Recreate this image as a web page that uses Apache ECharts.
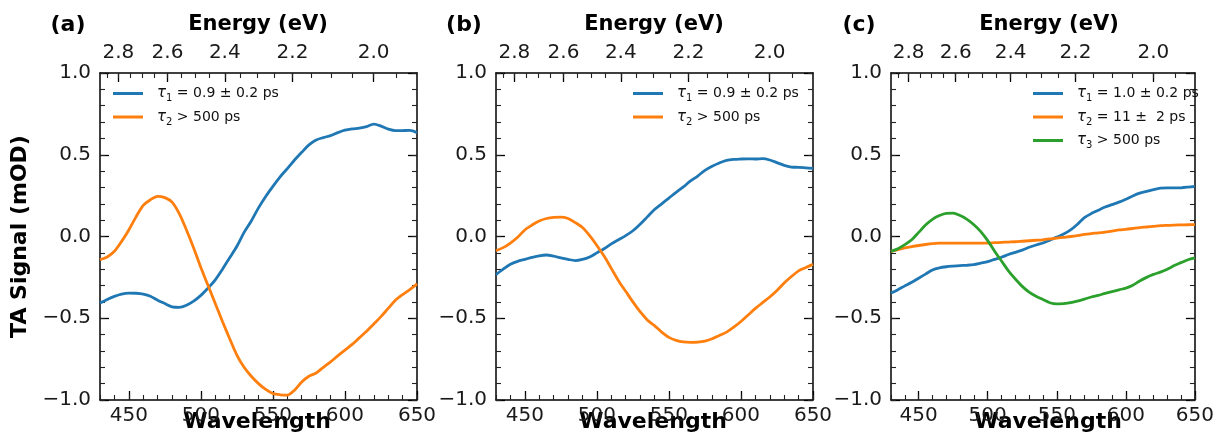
<!DOCTYPE html>
<html>
<head>
<meta charset="utf-8">
<script src="https://cdn.jsdelivr.net/npm/echarts@6/dist/echarts.min.js"></script>
<style>
    body { margin: 0; background: #fff; }
    #main { width: 1217px; height: 434px; }
</style>
</head>
<body>
<div id="main"></div>
<script>
// wavelength grid (nm) the curves were read on
var wavelength = [430, 435, 440, 445, 450, 455, 460, 465, 470, 475, 480, 485, 490, 495, 500,
    505, 510, 515, 520, 525, 530, 535, 540, 545, 550, 555, 560, 565, 570, 575, 580,
    585, 590, 595, 600, 605, 610, 615, 620, 625, 630, 635, 640, 645, 650];

// panel (a)
var a_tau1 = [-0.407, -0.385, -0.366, -0.352, -0.346, -0.347, -0.352, -0.365, -0.39, -0.41, -0.43, -0.433, -0.42, -0.395, -0.36,
    -0.315, -0.265, -0.2, -0.13, -0.06, 0.025, 0.095, 0.175, 0.245, 0.307, 0.365, 0.415, 0.468, 0.515, 0.56, 0.59,
    0.605, 0.617, 0.635, 0.65, 0.658, 0.663, 0.672, 0.687, 0.675, 0.657, 0.647, 0.648, 0.649, 0.635];
var a_tau2 = [-0.142, -0.125, -0.09, -0.03, 0.04, 0.12, 0.19, 0.225, 0.246, 0.238, 0.21, 0.14, 0.04, -0.07, -0.19,
    -0.3, -0.41, -0.52, -0.625, -0.725, -0.8, -0.855, -0.9, -0.935, -0.96, -0.968, -0.97, -0.94, -0.89, -0.855, -0.835,
    -0.8, -0.767, -0.73, -0.695, -0.66, -0.62, -0.58, -0.535, -0.49, -0.44, -0.39, -0.355, -0.325, -0.29];

// panel (b)
var b_tau1 = [-0.233, -0.2, -0.17, -0.152, -0.14, -0.128, -0.118, -0.113, -0.12, -0.131, -0.14, -0.147, -0.14, -0.125, -0.1,
    -0.075, -0.045, -0.02, 0.005, 0.035, 0.075, 0.12, 0.165, 0.2, 0.235, 0.27, 0.303, 0.34, 0.37, 0.405, 0.43,
    0.45, 0.466, 0.472, 0.474, 0.475, 0.474, 0.476, 0.468, 0.452, 0.435, 0.425, 0.423, 0.42, 0.417];
var b_tau2 = [-0.087, -0.068, -0.04, -0.005, 0.04, 0.07, 0.095, 0.11, 0.117, 0.118, 0.11, 0.085, 0.055, 0.005, -0.055,
    -0.12, -0.195, -0.27, -0.335, -0.4, -0.46, -0.51, -0.545, -0.585, -0.617, -0.635, -0.645, -0.647, -0.646, -0.64, -0.625,
    -0.605, -0.585, -0.555, -0.52, -0.48, -0.44, -0.405, -0.37, -0.33, -0.285, -0.245, -0.21, -0.19, -0.17];

// panel (c)
var c_tau1 = [-0.346, -0.325, -0.302, -0.28, -0.255, -0.23, -0.205, -0.192, -0.185, -0.181, -0.178, -0.176, -0.172, -0.163, -0.154,
    -0.14, -0.127, -0.11, -0.097, -0.083, -0.066, -0.052, -0.04, -0.022, -0.004, 0.015, 0.04, 0.075, 0.115, 0.14, 0.16,
    0.18, 0.195, 0.21, 0.228, 0.248, 0.265, 0.276, 0.287, 0.296, 0.298, 0.297, 0.298, 0.302, 0.307];
var c_tau2 = [-0.091, -0.08, -0.07, -0.062, -0.055, -0.049, -0.044, -0.041, -0.04, -0.04, -0.04, -0.04, -0.04, -0.04, -0.04,
    -0.038, -0.036, -0.034, -0.032, -0.029, -0.026, -0.023, -0.02, -0.015, -0.01, -0.005, 0.0, 0.006, 0.013, 0.018, 0.022,
    0.027, 0.033, 0.04, 0.044, 0.049, 0.054, 0.058, 0.062, 0.066, 0.068, 0.07, 0.071, 0.072, 0.073];
var c_tau3 = [-0.091, -0.075, -0.05, -0.02, 0.025, 0.07, 0.105, 0.128, 0.142, 0.143, 0.128, 0.105, 0.072, 0.03, -0.025,
    -0.09, -0.15, -0.21, -0.26, -0.305, -0.34, -0.365, -0.385, -0.405, -0.412, -0.41, -0.405, -0.395, -0.383, -0.37, -0.36,
    -0.348, -0.337, -0.326, -0.316, -0.298, -0.272, -0.25, -0.232, -0.218, -0.2, -0.178, -0.16, -0.142, -0.131];

var names_ab = ['τ₁ = 0.9 ± 0.2 ps', 'τ₂ > 500 ps'];
var names_c = ['τ₁ = 1.0 ± 0.2 ps', 'τ₂ = 11 ±  2 ps', 'τ₃ > 500 ps'];
var panelTags = ['(a)', '(b)', '(c)'];

// tick labels
var wlTicks = [450, 500, 550, 600, 650];
var energyTicks = [2.8, 2.6, 2.4, 2.2, 2.0];
var energyMinor = [2.85, 2.8, 2.75, 2.7, 2.65, 2.6, 2.55, 2.5, 2.45, 2.4, 2.35, 2.3, 2.25, 2.2, 2.15, 2.1, 2.05, 2.0, 1.95];

var HC = 1239.84; // eV*nm
var colors = ['#1f77b4', '#ff7f0e', '#2ca02c'];
var panelLeft = [100, 496, 891];
var tagX = [68, 464, 859];
var PW = 317, PH = 327, PTOP = 73;
var FONT = 'DejaVu Sans';
var INK = '#1a1a1a';
var SUBS = { '₁': '1', '₂': '2', '₃': '3' };

var toNm = function (list) {
    return list.map(function (e) { return HC / e; });
};

var pairs = function (ys) {
    return wavelength.map(function (w, i) { return [w, ys[i]]; });
};

var line = { show: true, onZero: false, lineStyle: { color: '#000', width: 1.5 } };
var noLine = { show: false, onZero: false };
var majorTick = function (extra) {
    var t = { inside: true, length: 9, lineStyle: { color: '#000', width: 1.3 } };
    if (extra) t.customValues = extra;
    return t;
};
var minorTick = function (extra) {
    var t = { inside: true, length: 5, lineStyle: { color: '#222', width: 1.1 } };
    if (extra) t.customValues = extra;
    return t;
};
var yFormat = function (v) { return (v < 0 ? '\u2212' : '') + Math.abs(v).toFixed(1); };

// "τ₁ = ..." -> italic tau + lowered subscript
var legendFormat = function (name) {
    return '{t|τ}{s|' + SUBS[name.charAt(1)] + '}{n|' + name.slice(2) + '}';
};

var grids = [], xAxes = [], yAxes = [], series = [], legends = [], texts = [];

panelLeft.forEach(function (left, i) {
    grids.push({ left: left, top: PTOP, width: PW, height: PH });

    // bottom: labels + major ticks
    xAxes.push({
        gridIndex: i, type: 'value', position: 'bottom', min: 430, max: 650, interval: 50,
        axisLine: line, axisTick: majorTick(wlTicks),
        axisLabel: { customValues: wlTicks, fontSize: 20, fontFamily: FONT, color: INK, margin: 6 },
        splitLine: { show: false }
    });
    // bottom: minor ticks
    xAxes.push({
        gridIndex: i, type: 'value', position: 'bottom', min: 430, max: 650, interval: 10,
        axisLine: noLine, axisTick: minorTick(), axisLabel: { show: false }, splitLine: { show: false }
    });
    // top: energy labels + major ticks
    xAxes.push({
        gridIndex: i, type: 'value', position: 'top', min: 430, max: 650,
        axisLine: line, axisTick: majorTick(toNm(energyTicks)),
        axisLabel: {
            customValues: toNm(energyTicks), fontSize: 20, fontFamily: FONT, color: INK, margin: 10,
            formatter: function (v) { return (HC / v).toFixed(1); }
        },
        splitLine: { show: false }
    });
    // top: minor ticks
    xAxes.push({
        gridIndex: i, type: 'value', position: 'top', min: 430, max: 650,
        axisLine: noLine, axisTick: minorTick(toNm(energyMinor)), axisLabel: { show: false }, splitLine: { show: false }
    });

    ['left', 'right'].forEach(function (side) {
        yAxes.push({
            gridIndex: i, type: 'value', position: side, min: -1, max: 1, interval: 0.5,
            axisLine: line, axisTick: majorTick(),
            axisLabel: side === 'left'
                ? { fontSize: 20, fontFamily: FONT, color: INK, margin: 9, formatter: yFormat }
                : { show: false },
            splitLine: { show: false }
        });
        yAxes.push({
            gridIndex: i, type: 'value', position: side, min: -1, max: 1, interval: 0.1,
            axisLine: noLine, axisTick: minorTick(), axisLabel: { show: false }, splitLine: { show: false }
        });
    });

    texts.push({
        type: 'text',
        style: { x: tagX[i], y: 25, text: panelTags[i], font: 'bold 22px "DejaVu Sans"', fill: '#000', textAlign: 'center', textVerticalAlign: 'middle' }
    });
    texts.push({
        type: 'text',
        style: { x: left + PW / 2 - 0.5, y: 25, text: 'Energy (eV)', font: 'bold 21px "DejaVu Sans"', fill: '#000', textAlign: 'center', textVerticalAlign: 'middle' }
    });
    texts.push({
        type: 'text',
        style: { x: left + PW / 2 - 1.5, y: 422, text: 'Wavelength', font: 'bold 22px "DejaVu Sans"', fill: '#000', textAlign: 'center', textVerticalAlign: 'middle' }
    });
});

var addSeries = function (panel, name, ys, k) {
    series.push({
        type: 'line', name: name, xAxisIndex: panel * 4, yAxisIndex: panel * 4,
        data: pairs(ys), symbol: 'none', smooth: 0.3,
        lineStyle: { color: colors[k], width: 2.8 },
        itemStyle: { color: colors[k] }
    });
};

addSeries(0, names_ab[0], a_tau1, 0);
addSeries(0, names_ab[1], a_tau2, 1);
addSeries(1, names_ab[0], b_tau1, 0);
addSeries(1, names_ab[1], b_tau2, 1);
addSeries(2, names_c[0], c_tau1, 0);
addSeries(2, names_c[1], c_tau2, 1);
addSeries(2, names_c[2], c_tau3, 2);

var legendBase = function (left, data) {
    return {
        orient: 'vertical', left: left, top: 86, padding: 0, data: data,
        icon: 'rect', itemWidth: 30, itemHeight: 3, itemGap: 6,
        formatter: legendFormat,
        textStyle: {
            fontSize: 14, fontFamily: FONT, color: '#111', padding: [0, 0, 0, 9],
            rich: {
                t: { fontSize: 15, fontStyle: 'italic', fontFamily: FONT, color: '#111', lineHeight: 20 },
                s: { fontSize: 10, fontFamily: FONT, color: '#111', lineHeight: 10, verticalAlign: 'bottom' },
                n: { fontSize: 14, fontFamily: FONT, color: '#111', lineHeight: 20 }
            }
        }
    };
};
legends.push(legendBase(113, names_ab));
legends.push(legendBase(633, names_ab));
legends.push(legendBase(1033, names_c));

texts.push({
    type: 'text', rotation: Math.PI / 2, x: 20, y: 236.5,
    style: { x: 0, y: 0, text: 'TA Signal (mOD)', font: 'bold 22px "DejaVu Sans"', fill: '#000', textAlign: 'center', textVerticalAlign: 'middle' }
});

var option = {
    backgroundColor: '#fff',
    animation: false,
    grid: grids,
    xAxis: xAxes,
    yAxis: yAxes,
    legend: legends,
    series: series,
    graphic: texts
};

var myChart = echarts.init(document.getElementById('main'));
myChart.setOption(option);
</script>
</body>
</html>
